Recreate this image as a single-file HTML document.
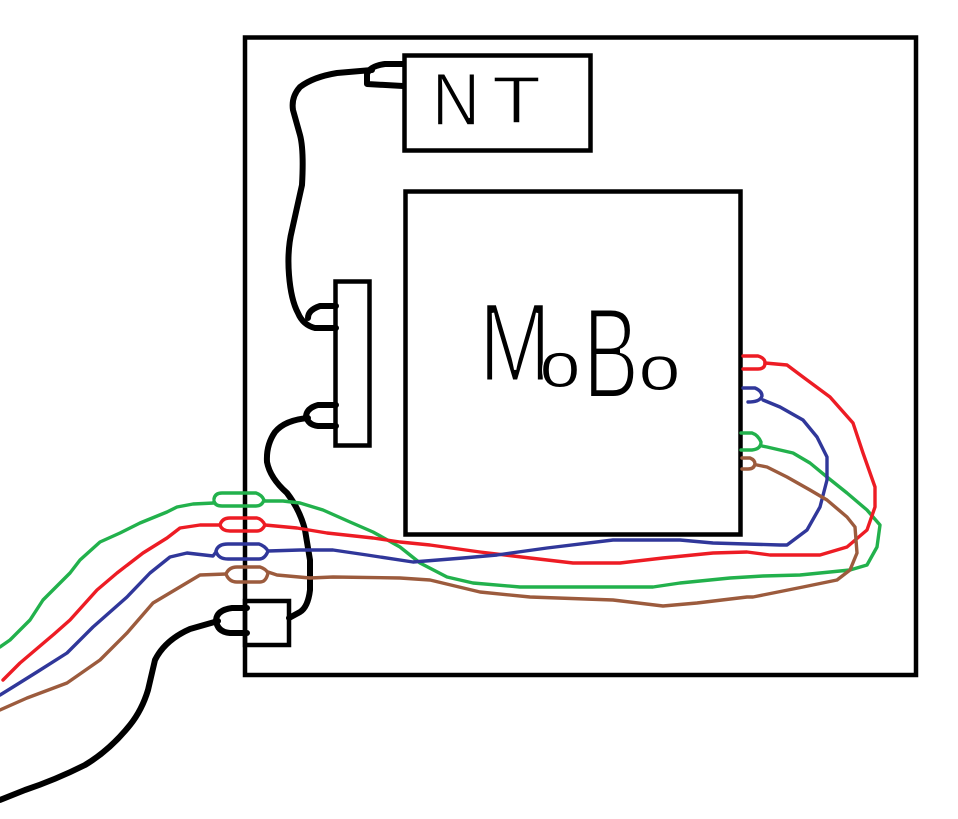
<!DOCTYPE html>
<html><head><meta charset="utf-8"><style>
html,body{margin:0;padding:0;background:#fff;}
svg{display:block;}
text{font-family:"Liberation Sans",sans-serif;fill:#000;}
</style></head><body>
<svg width="958" height="819" viewBox="0 0 958 819" xmlns="http://www.w3.org/2000/svg">
<rect x="0" y="0" width="958" height="819" fill="#fff"/>
<g fill="none" stroke="#000" stroke-width="4.5">
<rect x="245" y="37.5" width="671" height="637.5"/>
<rect x="404.5" y="55.5" width="186" height="95"/>
<rect x="405.5" y="191.5" width="335" height="343"/>
<rect x="335.5" y="281.5" width="34" height="164"/>
<rect x="245" y="601" width="44" height="44"/>
</g>
<g fill="none" stroke="#000" stroke-width="6" stroke-linecap="round" stroke-linejoin="round">
<path d="M403,64 L385,64 Q370,66 367,74 L367,84 L403,86"/>
<path d="M372,70 L337,73 Q313,77 300,87 Q291,97 293,110 L300,135 Q304,150 302,185 L292,230 Q287,250 289,275 Q291,300 298,313 Q303,325 315,328 L336,328"/>
<path d="M336,306 L320,306 Q308,310 308,318"/>
<path d="M336,405 L318,405 Q307,408 306,416 Q308,425 318,426 L336,426"/>
<path d="M308,418 Q285,420 275,432 Q266,445 267,462 Q270,478 287,493 Q300,510 305,530 L310,560 L310,590 Q308,607 300,612 L289,618"/>
<path d="M247,608 L232,608 Q217,610 216,620 Q217,632 230,633 L247,633"/>
<path d="M218,621 L190,629 Q165,640 155,660 L148,690 Q142,710 130,725 Q110,750 85,765 Q55,780 25,790 L0,800"/>
</g>
<g fill="none" stroke-width="3.4" stroke-linecap="round" stroke-linejoin="round">
<g stroke="#22b14c">
<polyline points="0,647 10,640 30,620 43,600 70,573 80,560 100,542 120,533 140,523 167,512 177,507 193,504 214,503"/>
<path d="M214,499 Q215,493 222,493 L256,493 Q262,495 264,500 Q262,506 256,506 L222,506 Q215,506 214,501"/>
<polyline points="264,501 283,501 300,503 323,510 350,522 373,532 400,547 420,563 447,577 473,583 520,587 653,587 680,583 730,578 763,576 800,575 850,570 867,565 877,547 880,525 867,510 847,493 827,477 810,463 793,453 767,447 762,446"/>
<path d="M741,433 L752,433 Q758,435 761,442 Q761,449 752,450 L741,450"/>
</g>
<g stroke="#ed1c24">
<polyline points="3,680 20,663 53,635 70,620 97,590 117,573 143,553 167,538 180,528 200,525 220,525"/>
<path d="M220,525 Q222,518 230,518 L257,518 Q262,519 265,525 Q262,531 257,531 L230,531 Q222,531 220,525"/>
<polyline points="265,525 297,528 327,533 373,538 400,542 430,545 480,552 530,558 573,563 620,563 663,558 713,553 747,552 770,555 820,555 847,547 867,530 875,507 875,487 863,453 853,423 830,397 803,377 787,365 765,363"/>
<path d="M743,356 L758,356 Q765,358 765,363 Q765,369 758,369 L743,369"/>
</g>
<g stroke="#30379a">
<polyline points="0,695 13,687 37,672 67,653 93,627 127,597 150,573 170,557 187,553 213,556 216,552"/>
<path d="M216,551 Q218,544 228,544 L259,544 Q265,546 268,551 Q265,559 259,559 L228,559 Q218,559 216,551"/>
<polyline points="268,551 300,550 333,550 367,555 380,557 413,562 463,558 497,555 547,548 613,540 680,540 713,543 780,545 787,545 807,530 820,507 827,480 827,457 817,437 803,420 780,407 763,400"/>
<path d="M743,388 L755,388 Q762,391 762,396 Q760,402 748,402"/>
</g>
<g stroke="#9c5b3d">
<polyline points="0,710 27,698 67,683 100,660 127,633 153,603 200,575 226,574"/>
<path d="M226,574 Q229,567 237,567 L260,567 Q266,569 268,573 Q266,582 260,582 L237,582 Q229,582 226,574"/>
<polyline points="268,572 277,575 310,578 333,577 400,578 430,580 480,592 530,597 613,600 663,606 697,603 747,597 753,597 803,587 837,580 850,570 857,553 855,527 847,517 827,500 810,490 787,477 767,467 757,465"/>
<path d="M742,458 L750,458 Q755,460 755,464 Q754,469 748,469 L742,469"/>
</g>
</g>
<g stroke="#fff">
<text x="432" y="125" font-size="74" textLength="48" lengthAdjust="spacingAndGlyphs" stroke-width="1.5">N</text>
<text x="492" y="123" font-size="67" textLength="49" lengthAdjust="spacingAndGlyphs" stroke-width="1.5">T</text>
<text x="479" y="381" font-size="112" textLength="72" lengthAdjust="spacingAndGlyphs" stroke-width="3">M</text>
<text x="539.5" y="387" font-size="64" textLength="41" lengthAdjust="spacingAndGlyphs" stroke-width="1">o</text>
<text x="583" y="398" font-size="130" textLength="56" lengthAdjust="spacingAndGlyphs" stroke-width="4">B</text>
<text x="638.5" y="390" font-size="63" textLength="42" lengthAdjust="spacingAndGlyphs" stroke-width="1">o</text>
</g>
</svg>
</body></html>
